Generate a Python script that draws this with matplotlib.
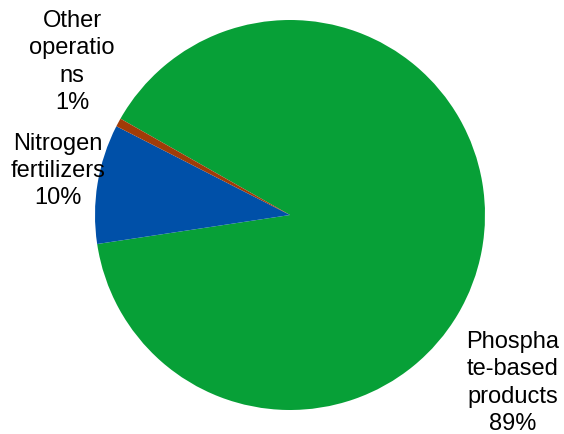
import matplotlib.pyplot as plt

labels = ['Phospha\nte-based\nproducts\n89%', 'Nitrogen\nfertilizers\n10%', 'Other\noperatio\nns\n1%']
values = [89.4, 9.9, 0.7]
colors = ['#07A037', '#0050A8', '#A03C08']

W, H = 564, 435
fig = plt.figure(figsize=(W / 100, H / 100), dpi=100)
ax = fig.add_axes([0, 0, 1, 1])

ax.pie(values, colors=colors, startangle=150.4, counterclock=False,
       center=(290, H - 216), radius=195, wedgeprops=dict(linewidth=0))
ax.set_xlim(0, W)
ax.set_ylim(0, H)
ax.set_aspect('equal')
ax.axis('off')

# label positions (pixel coords of each block centre)
label_pos = [(513, 383), (58, 171), (72, 62)]
for txt, (x, y) in zip(labels, label_pos):
    ax.text(x, H - y, txt, ha='center', va='center', fontsize=17,
            family='Liberation Sans', linespacing=1.3)

fig.savefig('out.png', dpi=100)
